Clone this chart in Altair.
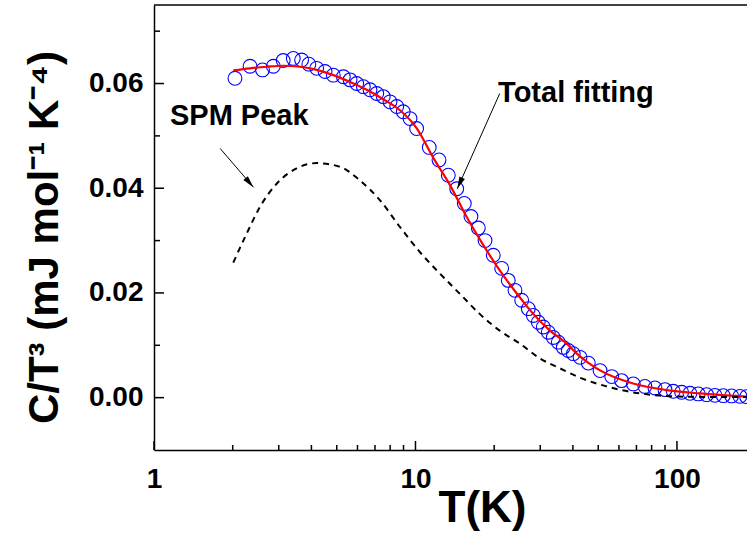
import math
import altair as alt
import pandas as pd

# ---------------- data ----------------
exp_T = [2.04, 2.33, 2.60, 2.86, 3.12, 3.41, 3.67, 3.91, 4.19, 4.51, 4.85, 5.30, 5.62, 5.96,
         6.32, 6.70, 7.11, 7.53, 7.99, 8.48, 8.98, 9.53, 10.1, 11.29, 12.30, 13.35, 14.38,
         15.37, 16.30, 17.39, 18.45, 19.84, 21.36, 22.64, 24.02, 25.48, 27.01, 28.22, 29.49,
         30.82, 32.20, 33.65, 35.17, 36.75, 38.40, 40.13, 42.6, 45.8, 50.8, 56.3, 61.4, 68.1,
         75.4, 82.4, 90.0, 96.8, 104.2, 112.1, 120.6, 129.9, 139.7, 150.4, 161.9, 174.1, 184.7]
exp_C = [0.0610, 0.0633, 0.0626, 0.0633, 0.0644, 0.0648, 0.0645, 0.0637, 0.0629, 0.0623,
         0.0616, 0.0613, 0.0607, 0.0600, 0.0594, 0.0588, 0.0581, 0.0575, 0.0565, 0.0556,
         0.0546, 0.0533, 0.0514, 0.0478, 0.0454, 0.0425, 0.0399, 0.0371, 0.0346, 0.0324,
         0.0300, 0.0272, 0.0247, 0.0224, 0.0205, 0.0186, 0.0170, 0.0157, 0.0144, 0.0135,
         0.0125, 0.0115, 0.0106, 0.0096, 0.0090, 0.0084, 0.0077, 0.0066, 0.00517, 0.00402,
         0.00325, 0.00262, 0.00215, 0.00185, 0.00153, 0.00121, 0.00102, 0.00083, 0.00071,
         0.00057, 0.00044, 0.00038, 0.00033, 0.00025, 0.00019]

fit_T = [2.01, 2.33, 2.70, 3.12, 3.62, 4.19, 4.85, 5.62, 6.51, 7.53, 8.72, 10.1, 11.7, 13.55,
         15.7, 18.2, 21.0, 24.4, 28.2, 32.7, 37.9, 41.4, 45.7, 50.8, 68.0, 90.0, 122.0, 185.0]
fit_C = [0.0625, 0.0629, 0.0632, 0.0634, 0.0632, 0.0626, 0.0616, 0.0603, 0.0588, 0.0570,
         0.0549, 0.0515, 0.0458, 0.0406, 0.0345, 0.0291, 0.0243, 0.0199, 0.0160, 0.0128,
         0.0103, 0.0084, 0.0067, 0.0052, 0.0027, 0.0015, 0.0008, 0.0002]

spm_T = [2.01, 2.26, 2.54, 2.95, 3.51, 4.19, 5.14, 6.13, 7.32, 8.72, 10.4, 12.4, 14.8, 17.6,
         21.0, 25.1, 29.9, 35.7, 42.6, 50.8, 60.5, 72.2, 86.1, 102.6, 185.0]
spm_C = [0.0258, 0.0313, 0.0364, 0.0409, 0.0438, 0.0448, 0.0441, 0.0415, 0.0377, 0.0326,
         0.0278, 0.0237, 0.0198, 0.0160, 0.0128, 0.0103, 0.0075, 0.0056, 0.0038, 0.0025,
         0.0015, 0.0008, 0.0004, 0.0002, 0.0001]

x_major = [1, 10, 100]
x_minor = [2, 3, 4, 5, 6, 7, 8, 9, 20, 30, 40, 50, 60, 70, 80, 90]
y_major = [0.0, 0.02, 0.04, 0.06]
y_minor = [0.01, 0.03, 0.05, 0.07]

labels_text = ["SPM Peak", "Total fitting"]
labels_T = [1.151, 20.7]
labels_C = [0.0521, 0.0565]

arrow_T0 = [1.79, 21.0]
arrow_C0 = [0.0476, 0.0581]
arrow_T1 = [2.40, 14.45]
arrow_C1 = [0.0402, 0.0399]

# ---------------- geometry ----------------
W, H = 593, 445
XMIN, XMAX = 1, 185.3
YMIN, YMAX = -0.01, 0.075
FONT = "Liberation Sans"

xs = alt.Scale(type="log", domain=[XMIN, XMAX], nice=False)
ys = alt.Scale(domain=[YMIN, YMAX], nice=False, zero=False)


def px(t):
    return W * math.log10(t / XMIN) / math.log10(XMAX / XMIN)


def py(c):
    return H * (YMAX - c) / (YMAX - YMIN)


angles = []
for t0, c0, t1, c1 in zip(arrow_T0, arrow_C0, arrow_T1, arrow_C1):
    dx = px(t1) - px(t0)
    dy = py(c1) - py(c0)
    angles.append(math.degrees(math.atan2(dx, -dy)) % 360)

exp_df = pd.DataFrame({"T": exp_T, "C": exp_C})
fit_df = pd.DataFrame({"T": fit_T, "C": fit_C})
spm_df = pd.DataFrame({"T": spm_T, "C": spm_C})
lab_df = pd.DataFrame({"T": labels_T, "C": labels_C, "txt": labels_text})
arr_df = pd.DataFrame({"T": arrow_T0, "C": arrow_C0, "T2": arrow_T1, "C2": arrow_C1})
head_df = pd.DataFrame({"T": arrow_T1, "C": arrow_C1, "ang": angles})

x_axis = alt.Axis(values=x_major, format="d", labelFont=FONT, labelFontSize=28,
                  labelFontWeight="bold", labelColor="black", labelPadding=15,
                  labelFlush=False, ticks=False, grid=False, domainColor="black",
                  domainWidth=1.5, title="T(K)", titleFont=FONT, titleFontSize=44,
                  titleFontWeight="bold", titleColor="black", titleX=328, titleY=71,
                  titleAlign="center", titleBaseline="alphabetic")
y_axis = alt.Axis(values=y_major, format=".2f", labelFont=FONT, labelFontSize=28,
                  labelFontWeight="bold", labelColor="black", labelPadding=11,
                  ticks=False, grid=False, domainColor="black", domainWidth=1.5,
                  title="C/T³ (mJ mol⁻¹ K⁻⁴)", titleFont=FONT, titleFontSize=42,
                  titleFontWeight="bold", titleColor="black", titleX=-97, titleY=232,
                  titleBaseline="alphabetic", titleAngle=270)

X = lambda f="T": alt.X(f"{f}:Q", scale=xs, axis=x_axis)
Y = lambda f="C": alt.Y(f"{f}:Q", scale=ys, axis=y_axis)

points = alt.Chart(exp_df).mark_point(shape="circle", filled=False, color="#0000ff",
                                      size=190, strokeWidth=1.1, opacity=1).encode(x=X(), y=Y())

fit_line = alt.Chart(fit_df).mark_line(color="#ff0000", strokeWidth=2.2,
                                       interpolate="monotone").encode(x=X(), y=Y())

spm_line = alt.Chart(spm_df).mark_line(color="black", strokeWidth=2, strokeDash=[6, 5],
                                       interpolate="monotone").encode(x=X(), y=Y())

xmaj = alt.Chart(pd.DataFrame({"T": x_major})).mark_rule(color="black", strokeWidth=1.5).encode(
    x=X(), y=alt.value(H), y2=alt.value(H - 9))
xmin_ = alt.Chart(pd.DataFrame({"T": x_minor})).mark_rule(color="black", strokeWidth=1.5).encode(
    x=X(), y=alt.value(H), y2=alt.value(H - 5))
ymaj = alt.Chart(pd.DataFrame({"C": y_major})).mark_rule(color="black", strokeWidth=1.5).encode(
    y=Y(), x=alt.value(0), x2=alt.value(10))
ymin_ = alt.Chart(pd.DataFrame({"C": y_minor})).mark_rule(color="black", strokeWidth=1.5).encode(
    y=Y(), x=alt.value(0), x2=alt.value(6))
top = alt.Chart(pd.DataFrame({"C": [YMAX]})).mark_rule(color="black", strokeWidth=1.5).encode(
    y=Y(), x=alt.value(0), x2=alt.value(W))

texts = alt.Chart(lab_df).mark_text(font=FONT, fontSize=29, fontWeight="bold", color="black",
                                    align="left", baseline="alphabetic").encode(
    x=X(), y=Y(), text="txt:N")

arrows = alt.Chart(arr_df).mark_rule(color="black", strokeWidth=1).encode(
    x=X(), y=Y(), x2="T2:Q", y2="C2:Q")

heads = alt.Chart(head_df).mark_point(shape="M0,0 L-0.5,2 L0.5,2 Z", filled=True,
                                      color="black", size=144, opacity=1, strokeWidth=0).encode(
    x=X(), y=Y(), angle=alt.Angle("ang:Q", scale=None))

chart = alt.layer(points, fit_line, spm_line, xmaj, xmin_, ymaj, ymin_, top,
                  arrows, heads, texts).properties(
    width=W, height=H, autosize=alt.AutoSizeParams(type="none"),
    padding={"left": 154, "top": 5, "right": 0, "bottom": 85},
    background="white",
).configure_view(strokeWidth=0)

chart.save("out.html", embed_options={"renderer": "svg", "actions": False})
